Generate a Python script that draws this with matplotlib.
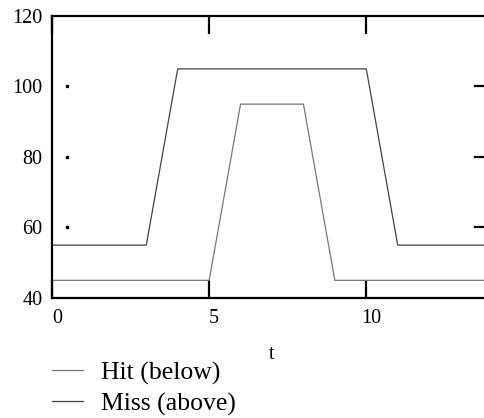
import matplotlib.pyplot as plt
import matplotlib.transforms as mtrans

# series
t_hit = [0, 5, 6, 8, 9, 14]
hit = [45, 45, 95, 95, 45, 45]
t_miss = [0, 3, 4, 10, 11, 14]
miss = [55, 55, 105, 105, 55, 55]

yticks = [40, 60, 80, 100, 120]
xticks = [0, 5, 10]

plt.rcParams['font.family'] = ['Liberation Serif', 'DejaVu Serif']

fig = plt.figure(figsize=(4.84, 4.18), dpi=100)
ax = fig.add_axes([52/484, 1-298/418, 440/484, 282/418])

l1, = ax.plot(t_hit, hit, color="#777777", lw=0.9)
l2, = ax.plot(t_miss, miss, color="#444444", lw=0.9)

ax.set_xlim(0, 14)
ax.set_ylim(40, 120)

for s in ['left', 'top', 'bottom']:
    ax.spines[s].set_linewidth(1.6)
ax.spines['right'].set_visible(False)

ax.set_yticks(yticks)
ax.set_yticklabels([str(v) for v in yticks], fontsize=14.5)
ax.tick_params(axis='y', length=0, pad=7)

ax.set_xticks(xticks)
ax.set_xticklabels([str(v) for v in xticks], fontsize=14.5)
ax.tick_params(axis='x', direction='in', length=13, width=1.6, pad=8,
               top=True, bottom=True)
# tick labels sit a little right of the ticks
offset = mtrans.ScaledTranslation(5/100, 0, fig.dpi_scale_trans)
for lab in ax.get_xticklabels():
    lab.set_transform(lab.get_transform() + offset)

# right-side inward ticks and left dots
for v in [60, 80, 100]:
    ax.plot([13.45, 14], [v, v], color="black", lw=1.6, clip_on=False)
    ax.plot([0.48], [v], marker='s', ms=1.6, color="black")

ax.set_xlabel("t", fontsize=14.5, labelpad=12)

fig.legend([l1, l2], ["Hit (below)", "Miss (above)"], loc='upper left',
           bbox_to_anchor=(29/484, 1-338/418), frameon=False, fontsize=18.5,
           handlelength=1.2, handletextpad=0.7, labelspacing=0.3)

fig.savefig("out.png", dpi=100)
